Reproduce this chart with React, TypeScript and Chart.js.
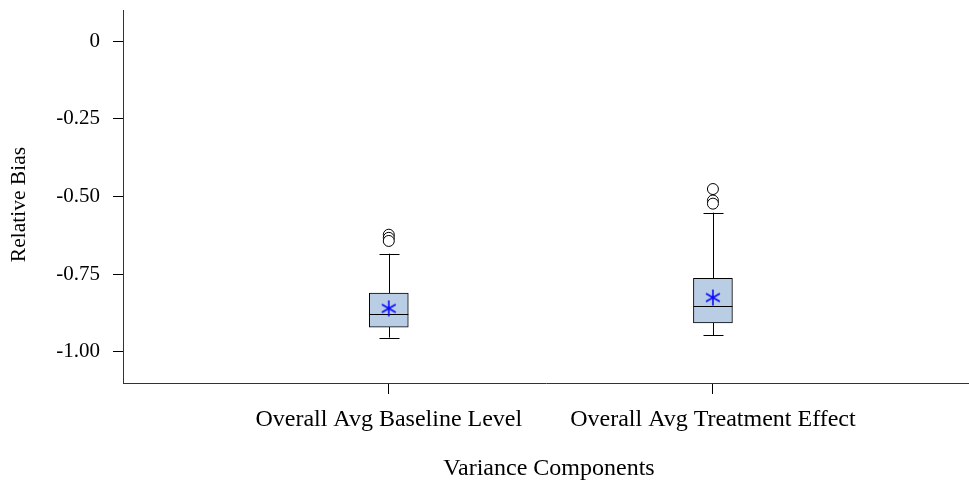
import React, { useEffect, useRef } from "react";
import { Chart, registerables } from "chart.js";

Chart.register(...registerables);

const categories = ["Overall Avg Baseline Level", "Overall Avg Treatment Effect"];
const positions = [1, 2];
const whiskerLow = [-0.954, -0.946];
const q1 = [-0.92, -0.907];
const median = [-0.879, -0.851];
const q3 = [-0.811, -0.763];
const whiskerHigh = [-0.684, -0.552];
const means = [-0.86, -0.825];
const outliers = [
  [-0.623, -0.633, -0.643],
  [-0.476, -0.513, -0.523],
];
const yTickValues = [0, -0.25, -0.5, -0.75, -1.0];
const yTickLabels = ["0", "-0.25", "-0.50", "-0.75", "-1.00"];

const FONT = "'Liberation Serif', 'Times New Roman', serif";

function makeAsterisk(): HTMLCanvasElement {
  const c = document.createElement("canvas");
  const s = 18;
  c.width = s;
  c.height = s;
  const ctx = c.getContext("2d")!;
  ctx.strokeStyle = "#0a0aff";
  ctx.lineWidth = 1.6;
  const cx = s / 2;
  const cy = s / 2;
  const r = 8;
  ctx.beginPath();
  for (const deg of [90, 30, 150]) {
    const a = (deg * Math.PI) / 180;
    ctx.moveTo(cx - r * Math.cos(a), cy - r * Math.sin(a));
    ctx.lineTo(cx + r * Math.cos(a), cy + r * Math.sin(a));
  }
  ctx.stroke();
  return c;
}

const boxPlugin = {
  id: "boxParts",
  beforeDatasetsDraw(chart: any) {
    const { ctx, scales } = chart;
    const xs = scales.x;
    const ys = scales.y;
    ctx.save();
    ctx.strokeStyle = "#000";
    ctx.lineWidth = 1;
    positions.forEach((p, i) => {
      const x = Math.round(xs.getPixelForValue(p)) + 0.5;
      const capHalf = 10;
      const yHi = ys.getPixelForValue(whiskerHigh[i]);
      const yQ3 = ys.getPixelForValue(q3[i]);
      const yQ1 = ys.getPixelForValue(q1[i]);
      const yLo = ys.getPixelForValue(whiskerLow[i]);
      ctx.beginPath();
      ctx.moveTo(x, yHi);
      ctx.lineTo(x, yQ3);
      ctx.moveTo(x, yQ1);
      ctx.lineTo(x, yLo);
      ctx.moveTo(x - capHalf, Math.round(yHi) + 0.5);
      ctx.lineTo(x + capHalf, Math.round(yHi) + 0.5);
      ctx.moveTo(x - capHalf, Math.round(yLo) + 0.5);
      ctx.lineTo(x + capHalf, Math.round(yLo) + 0.5);
      ctx.stroke();
    });
    ctx.restore();
  },
  afterDatasetDraw(chart: any, args: any) {
    if (args.index !== 0) return;
    const { ctx, scales } = chart;
    const meta = chart.getDatasetMeta(0);
    ctx.save();
    ctx.strokeStyle = "#000";
    ctx.lineWidth = 1.2;
    positions.forEach((p, i) => {
      const bar = meta.data[i];
      const half = bar.width / 2;
      const x = scales.x.getPixelForValue(p);
      const y = Math.round(scales.y.getPixelForValue(median[i])) + 0.5;
      ctx.beginPath();
      ctx.moveTo(x - half, y);
      ctx.lineTo(x + half, y);
      ctx.stroke();
    });
    ctx.restore();
  },
};

export default function App() {
  const ref = useRef<HTMLCanvasElement>(null);

  useEffect(() => {
    if (!ref.current) return;
    const star = makeAsterisk();
    const outlierPts: { x: number; y: number }[] = [];
    outliers.forEach((arr, i) => arr.forEach((v) => outlierPts.push({ x: positions[i], y: v })));

    const chart = new Chart(ref.current, {
      type: "bar",
      data: {
        datasets: [
          {
            type: "bar",
            order: 2,
            data: positions.map((p, i) => ({ x: p, y: [q1[i], q3[i]] })) as any,
            backgroundColor: "#b9cde5",
            borderColor: "#000",
            borderWidth: 1,
            borderSkipped: false,
            barThickness: 39,
          } as any,
          {
            type: "scatter",
            order: 1,
            data: outlierPts,
            pointStyle: "circle",
            pointRadius: 5.5,
            pointBackgroundColor: "#ffffff",
            pointBorderColor: "#000",
            pointBorderWidth: 1,
          } as any,
          {
            type: "scatter",
            order: 0,
            data: positions.map((p, i) => ({ x: p, y: means[i] })),
            pointStyle: star,
            pointRadius: 8,
          } as any,
        ],
      },
      options: {
        responsive: false,
        animation: false,
        layout: { padding: { top: 10, right: 0, left: 0, bottom: 0 } },
        plugins: {
          legend: { display: false },
          tooltip: { enabled: false },
        },
        scales: {
          x: {
            type: "linear",
            min: 0.18,
            max: 2.79,
            offset: false,
            afterBuildTicks: (scale: any) => {
              scale.ticks = positions.map((v) => ({ value: v }));
            },
            afterFit: (scale: any) => {
              scale.height = 100;
              scale.paddingLeft = 0;
              scale.paddingRight = 0;
            },
            ticks: {
              autoSkip: false,
              maxRotation: 0,
              color: "#000",
              padding: 11,
              font: { family: FONT, size: 24 },
              callback: (v: any) => {
                const idx = positions.indexOf(Number(v));
                return idx >= 0 ? categories[idx] : "";
              },
            },
            grid: { offset: false, drawOnChartArea: false, drawTicks: true, tickLength: 11, color: "#000" },
            border: { color: "#333", width: 1 },
            title: {
              display: true,
              text: " Variance Components",
              color: "#000",
              font: { family: FONT, size: 24 },
              padding: { top: 0, bottom: 0 },
            },
          },
          y: {
            type: "linear",
            min: -1.1,
            max: 0.1,
            afterBuildTicks: (scale: any) => {
              scale.ticks = yTickValues.map((v) => ({ value: v }));
            },
            afterFit: (scale: any) => {
              scale.width = 123;
              scale.paddingTop = 0;
              scale.paddingBottom = 0;
            },
            ticks: {
              color: "#000",
              padding: 13,
              font: { family: FONT, size: 21 },
              callback: (v: any) => {
                const idx = yTickValues.findIndex((t) => Math.abs(t - Number(v)) < 1e-9);
                return idx >= 0 ? yTickLabels[idx] : "";
              },
            },
            grid: { offset: false, drawOnChartArea: false, drawTicks: true, tickLength: 10, color: "#000" },
            border: { color: "#333", width: 1 },
            title: {
              display: true,
              text: "Relative Bias   ",
              color: "#000",
              font: { family: FONT, size: 21.5 },
              padding: { top: 6, bottom: 0 },
            },
          },
        },
      },
      plugins: [boxPlugin],
    });
    return () => chart.destroy();
  }, []);

  return (
    <div style={{ position: "absolute", left: 0, top: 0, width: 969, height: 483, overflow: "hidden", background: "#fff" }}>
      <canvas ref={ref} width={978} height={483} style={{ display: "block" }} />
    </div>
  );
}
